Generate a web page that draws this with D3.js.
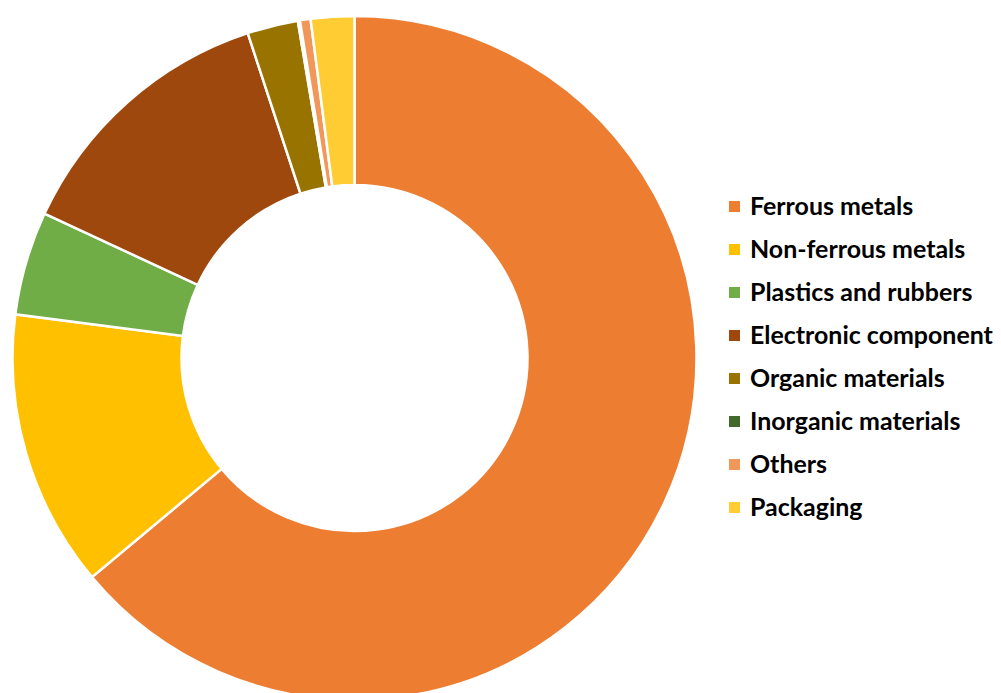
<!DOCTYPE html>
<html>
<head>
<meta charset="utf-8">
<script src="https://cdn.jsdelivr.net/npm/d3@7"></script>
<style>
  body { margin: 0; background: #fff; }
  svg { display: block; }
</style>
</head>
<body>
<div id="container"></div>
<script>
// data (share of total, %)
var categories = ["Ferrous metals", "Non-ferrous metals", "Plastics and rubbers", "Electronic component",
	"Organic materials", "Inorganic materials", "Others", "Packaging"];
var values = [63.9, 13.1, 4.9, 13.0, 2.4, 0.1, 0.5, 2.05];
var colors = ["#ED7D31", "#FFC000", "#70AD47", "#9E480E", "#997300", "#43682B", "#F1975A", "#FFCD33"];

var width = 1001, height = 693;

var svg = d3.select("#container")
	.append("svg")
	.attr("width", width)
	.attr("height", height);

var data = categories.map(function(c, i) {
	return { name: c, value: values[i], color: colors[i] };
});

// donut
var cx = 354.5, cy = 358;
var outerR = 342, innerR = 173;

var pie = d3.pie()
	.sort(null)
	.value(function(d) { return d.value; });

var arc = d3.arc()
	.innerRadius(innerR)
	.outerRadius(outerR);

var g = svg.append("g")
	.attr("transform", "translate(" + cx + "," + cy + ")");

g.selectAll("path")
	.data(pie(data)).enter()
	.append("path")
	.attr("d", arc)
	.style("fill", function(d) { return d.data.color; })
	.style("stroke", "#fff")
	.style("stroke-width", 2.5)
	.style("stroke-linejoin", "miter");

// legend
var legend = svg.append("g")
	.attr("transform", "translate(729,215)");

var rowH = 43;

var rows = legend.selectAll("g")
	.data(data).enter()
	.append("g")
	.attr("transform", function(d, i) { return "translate(0," + (i * rowH) + ")"; });

rows.append("rect")
	.attr("x", 0)
	.attr("y", -14)
	.attr("width", 11)
	.attr("height", 11)
	.style("fill", function(d) { return d.color; });

var labels = rows.append("text")
	.attr("x", 21)
	.attr("y", 0)
	.style("font-family", "Lato, 'Open Sans', sans-serif")
	.style("font-weight", "bold")
	.style("font-size", "23px")
	.style("fill", "#000")
	.text(function(d) { return d.name; });

// fit the longest label to the width seen in the picture
var widest = d3.max(labels.nodes(), function(n) { return n.getComputedTextLength(); });
var fs = 23 * 243 / widest;
labels.style("font-size", fs + "px");
</script>
</body>
</html>
